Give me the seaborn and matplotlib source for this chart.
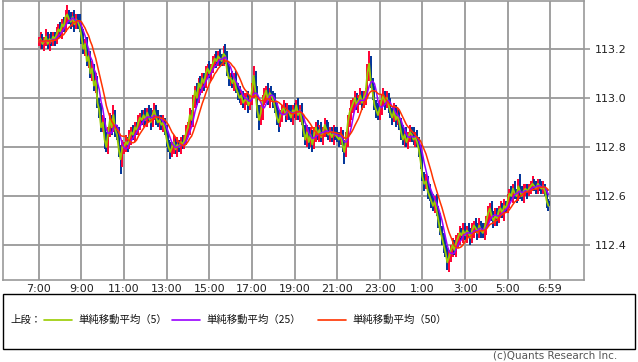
import numpy as np
import pandas as pd
import matplotlib
matplotlib.use("Agg")
import matplotlib.pyplot as plt
import seaborn as sns
from matplotlib.lines import Line2D
from matplotlib.patches import Rectangle

sns.set_theme(style="white")
plt.rcParams['font.family'] = ['DejaVu Sans']

# ---- data: 5-minute closes, one list per hour (7:00 .. 6:59) ----
close_07 = [113.23, 113.24, 113.22, 113.23, 113.25, 113.22, 113.24, 113.23, 113.25, 113.24, 113.26, 113.28]
close_08 = [113.27, 113.30, 113.29, 113.33, 113.34, 113.32, 113.31, 113.33, 113.30, 113.32, 113.31, 113.29]
close_09 = [113.25, 113.20, 113.22, 113.15, 113.17, 113.10, 113.12, 113.05, 113.07, 112.98, 112.95, 112.88]
close_10 = [112.90, 112.83, 112.80, 112.86, 112.91, 112.88, 112.93, 112.87, 112.85, 112.79, 112.75, 112.80]
close_11 = [112.80, 112.82, 112.81, 112.84, 112.86, 112.85, 112.88, 112.87, 112.90, 112.92, 112.91, 112.93]
close_12 = [112.91, 112.94, 112.92, 112.90, 112.93, 112.95, 112.92, 112.90, 112.91, 112.89, 112.90, 112.87]
close_13 = [112.83, 112.80, 112.78, 112.80, 112.82, 112.79, 112.81, 112.80, 112.82, 112.81, 112.83, 112.86]
close_14 = [112.88, 112.93, 112.91, 112.98, 113.03, 113.00, 113.06, 113.04, 113.08, 113.06, 113.10, 113.12]
close_15 = [113.10, 113.12, 113.14, 113.16, 113.15, 113.17, 113.16, 113.15, 113.18, 113.17, 113.11, 113.08]
close_16 = [113.08, 113.06, 113.08, 113.04, 113.02, 113.00, 113.01, 112.98, 112.99, 113.00, 112.97, 112.99]
close_17 = [113.03, 113.09, 113.02, 112.95, 112.91, 112.94, 112.99, 113.01, 113.03, 112.99, 113.02, 113.01]
close_18 = [112.99, 112.96, 112.92, 112.90, 112.93, 112.95, 112.96, 112.93, 112.95, 112.94, 112.92, 112.95]
close_19 = [112.94, 112.97, 112.93, 112.95, 112.91, 112.87, 112.83, 112.86, 112.82, 112.85, 112.81, 112.85]
close_20 = [112.88, 112.85, 112.87, 112.84, 112.86, 112.89, 112.87, 112.85, 112.86, 112.84, 112.86, 112.85]
close_21 = [112.84, 112.83, 112.85, 112.81, 112.78, 112.83, 112.90, 112.94, 112.96, 112.98, 113.00, 112.97]
close_22 = [112.99, 113.01, 112.98, 113.00, 113.02, 113.10, 113.14, 113.06, 113.02, 112.97, 112.95, 112.93]
close_23 = [112.96, 112.99, 113.01, 112.98, 113.00, 112.97, 112.94, 112.92, 112.95, 112.91, 112.93, 112.90]
close_00 = [112.86, 112.83, 112.85, 112.82, 112.84, 112.86, 112.85, 112.83, 112.84, 112.82, 112.79, 112.74]
close_01 = [112.68, 112.65, 112.66, 112.62, 112.60, 112.58, 112.56, 112.58, 112.54, 112.50, 112.46, 112.43]
close_02 = [112.40, 112.37, 112.33, 112.35, 112.38, 112.40, 112.38, 112.41, 112.43, 112.45, 112.44, 112.46]
close_03 = [112.44, 112.46, 112.45, 112.43, 112.46, 112.48, 112.47, 112.45, 112.48, 112.46, 112.45, 112.47]
close_04 = [112.50, 112.53, 112.55, 112.52, 112.50, 112.52, 112.51, 112.54, 112.55, 112.53, 112.56, 112.55]
close_05 = [112.58, 112.61, 112.60, 112.63, 112.61, 112.60, 112.64, 112.62, 112.60, 112.62, 112.63, 112.62]
close_06 = [112.63, 112.64, 112.65, 112.64, 112.63, 112.65, 112.64, 112.63, 112.64, 112.62, 112.58, 112.56]
first_open = 113.23

# upper / lower wick beyond the body, in 0.01 yen
hi_ext = [2,3,2,2,3,2,2,3,2,2,3,2, 3,2,3,3,4,2,3,2,3,2,2,3, 2,3,2,3,2,2,3,2,3,2,2,3,
          3,2,3,2,3,2,4,2,2,3,2,3, 2,3,2,3,2,3,2,2,3,2,3,2, 3,2,3,4,2,3,2,3,2,2,3,2,
          2,3,2,2,3,2,3,2,2,3,2,3, 2,3,2,3,2,3,2,3,2,2,3,2, 3,2,3,2,3,2,3,2,3,4,2,3,
          2,3,2,3,2,3,2,2,3,2,3,2, 3,4,2,3,2,3,2,3,2,3,2,3, 2,3,2,3,2,2,3,2,3,2,3,2,
          3,2,3,2,3,2,2,3,2,3,2,3, 2,3,2,3,2,3,2,3,2,2,3,2, 3,2,3,2,2,3,3,2,3,2,3,2,
          2,3,2,3,2,4,5,3,2,3,2,3, 3,2,3,2,3,2,3,2,3,2,3,2, 2,3,2,3,2,3,2,3,2,3,2,2,
          3,2,3,2,3,2,3,2,3,2,3,2, 2,3,2,3,2,3,2,3,2,3,2,3, 3,2,3,2,3,2,3,2,3,2,3,2,
          2,3,2,3,2,3,3,2,3,2,3,2, 3,2,3,2,3,2,3,5,2,3,2,2, 2,2,3,2,2,2,2,2,2,1,1,1]
lo_ext = [2,3,2,3,2,2,3,2,2,3,2,2, 2,3,2,2,3,2,3,2,3,2,3,2, 3,2,3,2,3,2,3,2,3,2,3,2,
          2,4,2,3,2,3,2,3,2,3,6,3, 3,2,3,2,3,2,3,2,2,3,2,3, 2,3,2,3,2,2,3,2,3,2,3,2,
          3,2,3,2,3,2,3,2,3,2,2,2, 2,3,2,3,2,3,2,3,2,3,2,2, 2,3,2,2,3,2,3,2,2,3,2,3,
          3,2,3,2,3,2,3,2,3,2,3,2, 2,3,2,3,4,2,3,2,3,2,3,2, 3,2,3,4,2,3,2,3,2,3,2,3,
          2,3,2,3,2,3,2,3,3,2,3,2, 3,2,3,2,3,2,3,2,3,2,3,2, 2,3,2,3,5,2,3,2,3,2,3,2,
          3,2,3,2,3,2,3,2,3,2,3,2, 2,3,2,3,2,3,2,3,2,3,2,3, 3,2,3,2,3,2,3,2,3,2,3,3,
          2,3,2,3,2,3,2,3,2,3,2,3, 3,2,3,4,2,3,2,3,2,3,2,3, 2,3,2,3,2,3,2,3,2,3,2,3,
          3,2,3,2,3,2,3,2,3,2,3,2, 2,3,2,3,2,3,2,3,2,3,2,3, 2,2,2,2,2,2,2,2,2,2,3,2]

xtick_labels = ["7:00", "9:00", "11:00", "13:00", "15:00", "17:00", "19:00",
                "21:00", "23:00", "1:00", "3:00", "5:00", "6:59"]
ytick_values = [112.4, 112.6, 112.8, 113.0, 113.2]

# ---- build frame ----
close = np.array(close_07 + close_08 + close_09 + close_10 + close_11 + close_12 +
                 close_13 + close_14 + close_15 + close_16 + close_17 + close_18 +
                 close_19 + close_20 + close_21 + close_22 + close_23 + close_00 +
                 close_01 + close_02 + close_03 + close_04 + close_05 + close_06)
n = len(close)
opn = np.concatenate([[first_open], close[:-1]])
top = np.maximum(opn, close)
bot = np.minimum(opn, close)
high = top + np.array(hi_ext) * 0.01
low = bot - np.array(lo_ext) * 0.01
times = pd.date_range("2018-01-01 07:00", periods=n, freq="5min")
df = pd.DataFrame({"i": np.arange(n), "open": opn, "close": close, "high": high, "low": low},
                  index=times)
# moving averages over 5 / 25 / 50 minutes of data
df["sma5"] = df["close"].rolling("5min").mean()
df["sma25"] = df["close"].rolling("25min").mean()
df["sma50"] = df["close"].rolling("50min").mean()
df = df.reset_index(drop=True)

UP = "#ff0033"
DN = "#003399"
G5, P25, R50 = "#99cc00", "#9900ff", "#ff3300"
GRID = "#999999"

fig = plt.figure(figsize=(6.38, 3.62), dpi=100)
ax = fig.add_axes([3 / 638, 1 - 280 / 362, 581 / 638, 279 / 362])

cols = np.where(df["close"] >= df["open"], UP, DN)
ax.vlines(df["i"], df["low"], df["high"], colors=cols, lw=1.4, zorder=2)
heights = np.maximum(top - bot, 0.004)
ax.bar(df["i"], heights, bottom=bot, width=1.15, color=cols, linewidth=0, zorder=3)

sns.lineplot(data=df, x="i", y="sma5", color=G5, lw=1.3, ax=ax, zorder=4)
sns.lineplot(data=df, x="i", y="sma25", color=P25, lw=1.1, ax=ax, zorder=5)
sns.lineplot(data=df, x="i", y="sma50", color=R50, lw=1.1, ax=ax, zorder=6)

ax.set_xlim(-20.2, 307)
ax.set_ylim(112.258, 113.395)
xt = list(range(0, 288, 24)) + [287.8]
ax.set_xticks(xt)
ax.set_xticklabels(xtick_labels)
ax.set_yticks(ytick_values)
ax.set_yticklabels([f"{v:.1f}" for v in ytick_values])
ax.yaxis.tick_right()
ax.tick_params(axis="y", length=4, color=GRID, width=1.2, labelsize=8, pad=4, labelcolor="#222222")
ax.tick_params(axis="x", length=0, labelsize=8, pad=3, labelcolor="#222222")
ax.set_xlabel("")
ax.set_ylabel("")
ax.grid(True, color=GRID, lw=1.3, zorder=0)
ax.set_axisbelow(True)
for s in ax.spines.values():
    s.set_color(GRID)
    s.set_linewidth(1.2)

# ---- legend box ----
def fy(y):
    return 1 - y / 362

def fx(x):
    return x / 638

fig.patches.append(Rectangle((fx(3), fy(349)), fx(632), 55 / 362, transform=fig.transFigure,
                             fill=False, ec="black", lw=1.0))
jp = ["Noto Sans CJK JP", "DejaVu Sans"]
ly = fy(320)
fig.text(fx(10), ly, "上段：", family=jp, fontsize=7.5, va="center", ha="left", color="#111111")
items = [(44, G5, "単純移動平均（5）"), (172, P25, "単純移動平均（25）"), (318, R50, "単純移動平均（50）")]
for x0, c, lab in items:
    fig.add_artist(Line2D([fx(x0), fx(x0 + 28)], [ly, ly], color=c, lw=1.2, transform=fig.transFigure))
    fig.text(fx(x0 + 34), ly, lab, family=jp, fontsize=7.5, va="center", ha="left", color="#111111")

fig.text(fx(617), fy(356), "(c)Quants Research Inc.", fontsize=7.5, ha="right", va="center", color="#555555")

fig.savefig("out.png", dpi=100)
